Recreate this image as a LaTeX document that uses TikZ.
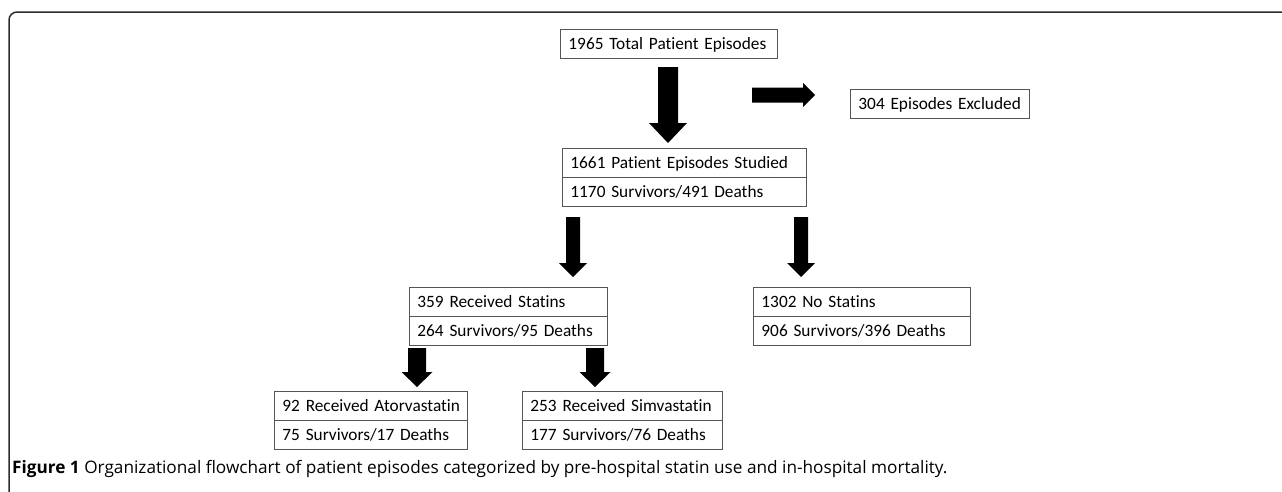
\documentclass[tikz,border=0pt]{standalone}
\usepackage{fontspec}
\setmainfont{Carlito}[Ligatures=NoCommon]
\newfontfamily\capfont{Open Sans}
\usetikzlibrary{calc}
\definecolor{boxgray}{RGB}{85,85,85}
\definecolor{framegray}{RGB}{45,45,45}
\newcommand\blkdown[5]{\fill[black] let \p1=(#1), \p2=(#2) in
  (\x1-#3pt,\y1) -- (\x1+#3pt,\y1) -- (\x1+#3pt,\y2+#5pt) -- (\x1+#4pt,\y2+#5pt)
  -- (\x1,\y2) -- (\x1-#4pt,\y2+#5pt) -- (\x1-#3pt,\y2+#5pt) -- cycle;}
\newcommand\blkright[5]{\fill[black] let \p1=(#1), \p2=(#2) in
  (\x1,\y1+#3pt) -- (\x1,\y1-#3pt) -- (\x2-#5pt,\y1-#3pt) -- (\x2-#5pt,\y1-#4pt)
  -- (\x2,\y1) -- (\x2-#5pt,\y1+#4pt) -- (\x2-#5pt,\y1+#3pt) -- cycle;}
\begin{document}
\begin{tikzpicture}[x=1pt,y=-1pt,
  row/.style={draw=boxgray, line width=0.9pt, anchor=north west, minimum height=28.5pt,
    inner xsep=8pt, inner ysep=0pt, text height=12pt, text depth=1pt, align=left,
    font=\fontsize{17.3}{20}\selectfont},
  caption/.style={anchor=base west, inner sep=0pt, font=\capfont\fontsize{17.2}{20}\selectfont}]
\useasboundingbox (0,0) rectangle (1282,491);
% frame
\draw[framegray, line width=1.5pt, rounded corners=8pt] (9,495) -- (9,12) -- (1290,12);
% boxes
\node[row, text width=201pt] (total) at (560,29) {\mbox{1965 Total Patient Episodes}};
\node[row, text width=163pt] (excl) at (850,89) {\mbox{304 Episodes Excluded}};
\node[row, text width=228pt] (stud) at (562,148) {\mbox{1661 Patient Episodes Studied}};
\node[row, text width=228pt] (studb) at (stud.south west) {\mbox{1170 Survivors/491 Deaths}};
\node[row, text width=182pt] (stat) at (409,287) {\mbox{359 Received Statins}};
\node[row, text width=182pt] (statb) at (stat.south west) {\mbox{264 Survivors/95 Deaths}};
\node[row, text width=201pt] (nost) at (753,287) {\mbox{1302 No Statins}};
\node[row, text width=201pt] (nostb) at (nost.south west) {\mbox{906 Survivors/396 Deaths}};
\node[row, text width=177pt] (ator) at (274,391) {\mbox{92 Received Atorvastatin}};
\node[row, text width=177pt] (atorb) at (ator.south west) {\mbox{75 Survivors/17 Deaths}};
\node[row, text width=184pt] (simv) at (522,391) {\mbox{253 Received Simvastatin}};
\node[row, text width=184pt] (simvb) at (simv.south west) {\mbox{177 Survivors/76 Deaths}};
% arrow coordinates
\coordinate (a1s) at (668,67);  \coordinate (a1e) at (668,143);
\coordinate (a2s) at (752,95);  \coordinate (a2e) at (815,95);
\coordinate (a3s) at (573,217); \coordinate (a3e) at (573,277);
\coordinate (a4s) at (801,217); \coordinate (a4e) at (801,277);
\coordinate (a5s) at (417,348); \coordinate (a5e) at (417,387);
\coordinate (a6s) at (595,348); \coordinate (a6e) at (595,387);
\blkdown{a1s}{a1e}{10}{19}{20}
\blkright{a2s}{a2e}{7.5}{12}{12}
\blkdown{a3s}{a3e}{7}{14}{14}
\blkdown{a4s}{a4e}{7}{14}{14}
\blkdown{a5s}{a5e}{9}{15.5}{15}
\blkdown{a6s}{a6e}{9}{15.5}{15}
% caption
\node[caption] (cap) at (12,473) {\textbf{Figure 1} Organizational flowchart of patient episodes categorized by pre-hospital statin use and in-hospital mortality.};
\end{tikzpicture}
\end{document}
